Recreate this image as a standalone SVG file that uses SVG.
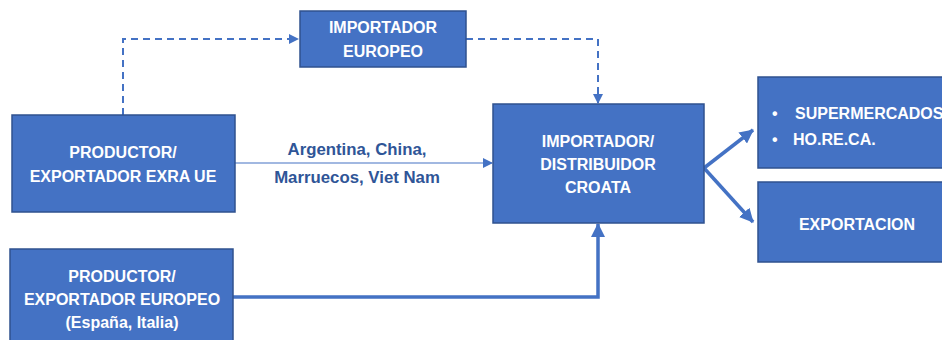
<svg xmlns="http://www.w3.org/2000/svg" width="942" height="340" viewBox="0 0 942 340">
<style>
.box{fill:#4472C4;stroke:#2F528F;stroke-width:1.5}
.t{fill:#fff;font-family:"Liberation Sans",Arial,sans-serif;font-weight:bold;font-size:16px;text-anchor:middle}
.tl{fill:#fff;font-family:"Liberation Sans",Arial,sans-serif;font-weight:bold;font-size:16px}
.lbl{fill:#2F5597;font-family:"Liberation Sans",Arial,sans-serif;font-weight:bold;font-size:16.8px;text-anchor:middle}
.c{fill:none;stroke:#4472C4}
</style>
<defs>
<marker id="as" markerWidth="10" markerHeight="10" refX="9" refY="5" orient="auto" markerUnits="userSpaceOnUse"><path d="M0,0 L10,5 L0,10 Z" fill="#4472C4"/></marker>
<marker id="al" markerWidth="14" markerHeight="14" refX="13" refY="7" orient="auto" markerUnits="userSpaceOnUse"><path d="M0,0 L14,7 L0,14 Z" fill="#4472C4"/></marker>
</defs>
<g id="connectors">
<path class="c" d="M123,115 V39 H298" stroke-width="2" stroke-dasharray="7,5" marker-end="url(#as)"/>
<path class="c" d="M466,39 H598 V103" stroke-width="2" stroke-dasharray="7,5" marker-end="url(#as)"/>
<path class="c" d="M235,163 H492" stroke-width="1.2" marker-end="url(#as)"/>
<path class="c" d="M233,297 H598 V224" stroke-width="3.5" marker-end="url(#al)"/>
<path class="c" d="M704,168 L753,130" stroke-width="3.5" marker-end="url(#al)"/>
<path class="c" d="M704,168 L753,222" stroke-width="3.5" marker-end="url(#al)"/>
<text class="lbl" x="357" y="155">Argentina, China,</text>
<text class="lbl" x="357" y="183">Marruecos, Viet Nam</text>
</g>
<g id="importador-europeo">
<rect class="box" x="300" y="11" width="166" height="56"/>
<text class="t" x="383" y="33">IMPORTADOR</text>
<text class="t" x="383" y="57">EUROPEO</text>
</g>
<g id="productor-extra-ue">
<rect class="box" x="12" y="115" width="223" height="97"/>
<text class="t" x="123" y="158">PRODUCTOR/</text>
<text class="t" x="123" y="182">EXPORTADOR EXRA UE</text>
</g>
<g id="importador-croata">
<rect class="box" x="493" y="104" width="211" height="119"/>
<text class="t" x="598" y="147">IMPORTADOR/</text>
<text class="t" x="598" y="170">DISTRIBUIDOR</text>
<text class="t" x="598" y="193">CROATA</text>
</g>
<g id="supermercados">
<rect class="box" x="758" y="77" width="190" height="91"/>
<text class="tl" x="772" y="119">•</text>
<text class="tl" x="795" y="119">SUPERMERCADOS</text>
<text class="tl" x="772" y="145">•</text>
<text class="tl" x="793" y="145">HO.RE.CA.</text>
</g>
<g id="exportacion">
<rect class="box" x="758" y="182" width="190" height="80"/>
<text class="t" x="857" y="230">EXPORTACION</text>
</g>
<g id="productor-europeo">
<rect class="box" x="10" y="249" width="223" height="95"/>
<text class="t" x="122" y="282">PRODUCTOR/</text>
<text class="t" x="122" y="305">EXPORTADOR EUROPEO</text>
<text class="t" x="122" y="328">(España, Italia)</text>
</g>
</svg>
